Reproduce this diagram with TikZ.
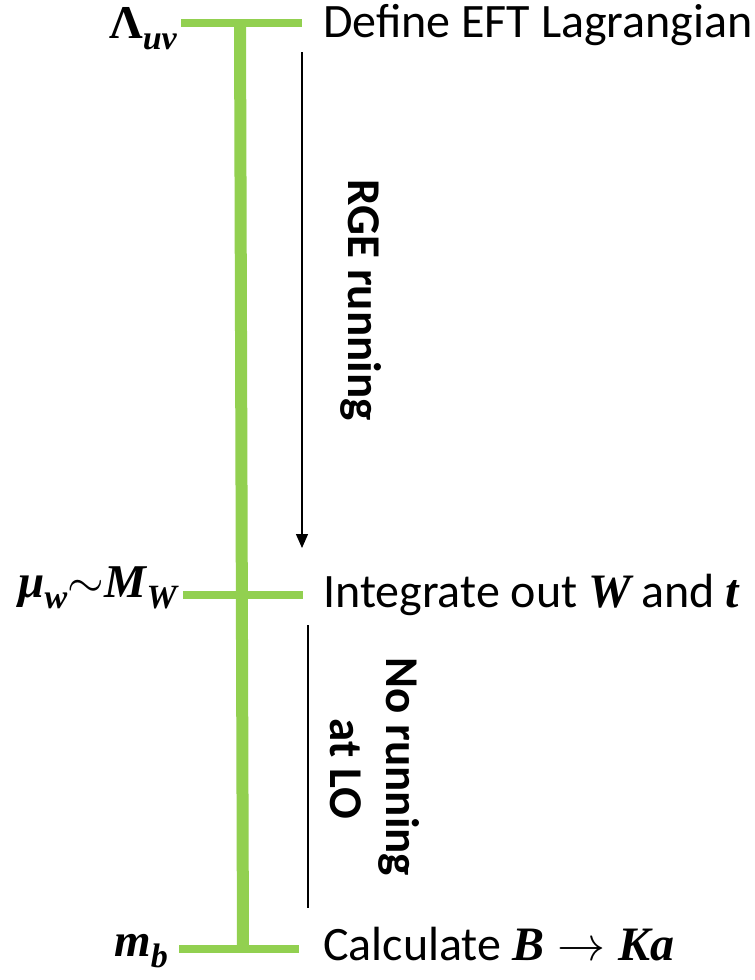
\RequirePackage{fix-cm}
\documentclass[tikz,border=0pt]{standalone}
\usepackage{amsmath}
\usepackage{fontspec}
\setmainfont{Carlito}
\newfontfamily\mathserif{Liberation Serif}
\newcommand{\bmi}[1]{\text{\mathserif\bfseries\itshape #1}}
\newcommand{\bmu}[1]{{\mathserif\bfseries #1}}
\newcommand{\lsub}[1]{\raisebox{-0.24em}{\fontsize{34}{40}\selectfont\mathserif\bfseries\itshape #1}}
\usetikzlibrary{arrows.meta}
\definecolor{barGreen}{RGB}{146,208,80}
\tikzset{
  bar/.style={draw=barGreen, line width=8pt},
  stem/.style={draw=barGreen, line width=12pt},
  scalelabel/.style={anchor=base east, inner sep=0pt, font=\fontsize{47}{56}\selectfont},
  stagetext/.style={anchor=base west, inner sep=0pt, font=\fontsize{48}{58}\selectfont},
  sidetext/.style={rotate=-90, anchor=base, inner sep=0pt, font=\fontsize{47}{57}\selectfont\bfseries},
  thinline/.style={draw=black, line width=1.3pt}
}
\begin{document}
\begin{tikzpicture}[x=1pt,y=-1pt]
\useasboundingbox (0,0) rectangle (755,980);
% bar end points
\coordinate (tl) at (181,23);
\coordinate (tr) at (302,23);
\coordinate (ml) at (183,595);
\coordinate (mr) at (303,595);
\coordinate (bl) at (179,949);
\coordinate (br) at (299,949);
\coordinate (vt) at (240,23);
\coordinate (vb) at (243,949);
% green scale
\draw[stem] (vt) -- (vb);
\draw[bar] (tl) -- (tr);
\draw[bar] (ml) -- (mr);
\draw[bar] (bl) -- (br);
% left labels
\node[scalelabel] (luv) at (177,38) {\bmu{Λ}\lsub{uv}};
\node[scalelabel] (lw) at (177,597) {{\mathserif\bfseries\itshape μ}\lsub{w}$\sim$\kern1pt{\mathserif\bfseries\itshape M}\lsub{W}};
\node[scalelabel] (lb) at (168,956) {{\mathserif\bfseries\itshape m}\lsub{b}};
% right texts
\node[stagetext] (t1) at (323,37) {Define EFT Lagrangian};
\node[stagetext] (t2) at (323,607) {Integrate out $\bmi{W}$ and $\bmi{t}$};
\node[stagetext] (t3) at (323,960) {Calculate $\bmi{B}\rightarrow\bmi{Ka}$};
% arrows and lines
\coordinate (a1) at (302,52);
\coordinate (a2) at (302,548);
\draw[thinline, -{Triangle[length=14pt,width=12pt]}] (a1) -- (a2);
\coordinate (n1) at (308,625);
\coordinate (n2) at (308,908);
\draw[thinline] (n1) -- (n2);
% rotated labels
\node[sidetext] (rge) at (348,300) {RGE running};
\node[sidetext] (nor1) at (386,767) {No running};
\node[sidetext] (nor2) at (330,769) {at LO};
\end{tikzpicture}
\end{document}
